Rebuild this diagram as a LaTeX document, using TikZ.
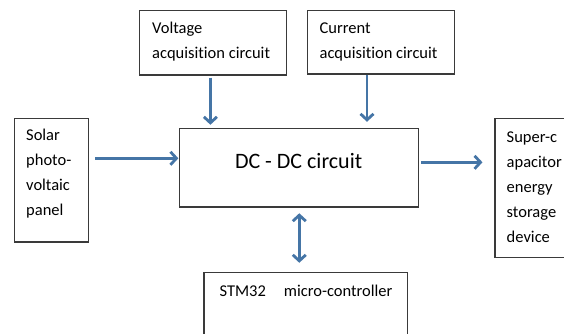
\documentclass[tikz,border=0pt]{standalone}
\usepackage{fontspec}
\setmainfont{Carlito}[Ligatures={NoCommon,NoRare}]
\usetikzlibrary{arrows.meta}
\definecolor{arrblue}{HTML}{4575A6}
\definecolor{boxgray}{HTML}{3A3A3A}
\newcommand{\acqword}{acquisit\kern0pt ion}
\tikzset{
  blockbox/.style={draw=boxgray, line width=1.1pt, inner sep=0pt},
  lbl/.style={inner sep=0pt, align=left, anchor=west, font=\fontsize{16.5}{25}\selectfont},
  arr/.style={draw=arrblue, line width=2.8pt, -{Straight Barb[length=6pt,width=13pt]}},
  biarr/.style={draw=arrblue, line width=2.8pt, {Straight Barb[length=6pt,width=13pt]}-{Straight Barb[length=6pt,width=13pt]}}
}
\begin{document}
\begin{tikzpicture}[x=1pt,y=-1pt]
\clip (0,0) rectangle (564,333);
\fill[white] (0,0) rectangle (564,333);
% boxes
\node[blockbox, minimum width=147.4pt, minimum height=64.7pt] (V) at (213,42.65) {};
\node[blockbox, minimum width=146.8pt, minimum height=63.7pt] (C) at (380.9,42.15) {};
\node[blockbox, minimum width=74.4pt, minimum height=123.7pt] (S) at (51.6,180.15) {};
\node[blockbox, minimum width=238.8pt, minimum height=78.7pt] (DC) at (299.3,167.65) {};
\node[blockbox, minimum width=75pt, minimum height=139.4pt] (SC) at (532.5,188) {};
\node[blockbox, minimum width=203.7pt, minimum height=70pt] (M) at (305.85,307.7) {};
% texts
\node[lbl] (Vt) at (152,41.8) {Voltage\\\acqword{} circuit};
\node[lbl] (Ct) at (319.4,41.8) {Current\\\acqword{} circuit};
\node[lbl] (St) at (26,174) {Solar\\photo-\\voltaic\\panel};
\node[lbl] (SCt) at (506.5,187.3) {Super-c\\apacitor\\energy\\storage\\device};
\node[inner sep=0pt, font=\fontsize{22}{26}\selectfont] (DCt) at (298.6,160.7) {DC - DC circuit};
\node[lbl] (Mt) at (219.4,291) {STM32\hspace{18pt}micro-controller};
% connectors
\coordinate (vx) at (210.4,0);
\coordinate (cx) at (367,0);
\coordinate (sy) at (0,158.3);
\coordinate (oy) at (0,162.3);
\draw[arr] ([yshift=-2pt]V.south -| vx) -- ([yshift=3pt]DC.north -| vx);
\draw[arr] (C.south -| cx) -- ([yshift=6pt]DC.north -| cx);
\draw[arr] ([xshift=6pt]S.east |- sy) -- ([xshift=-1pt]DC.west |- sy);
\draw[arr] ([xshift=2pt]DC.east |- oy) -- ([xshift=-12pt]SC.west |- oy);
\draw[biarr] ([yshift=-5.7pt]DC.south) -- ([yshift=9.4pt]M.north -| DC.south);
\end{tikzpicture}
\end{document}
